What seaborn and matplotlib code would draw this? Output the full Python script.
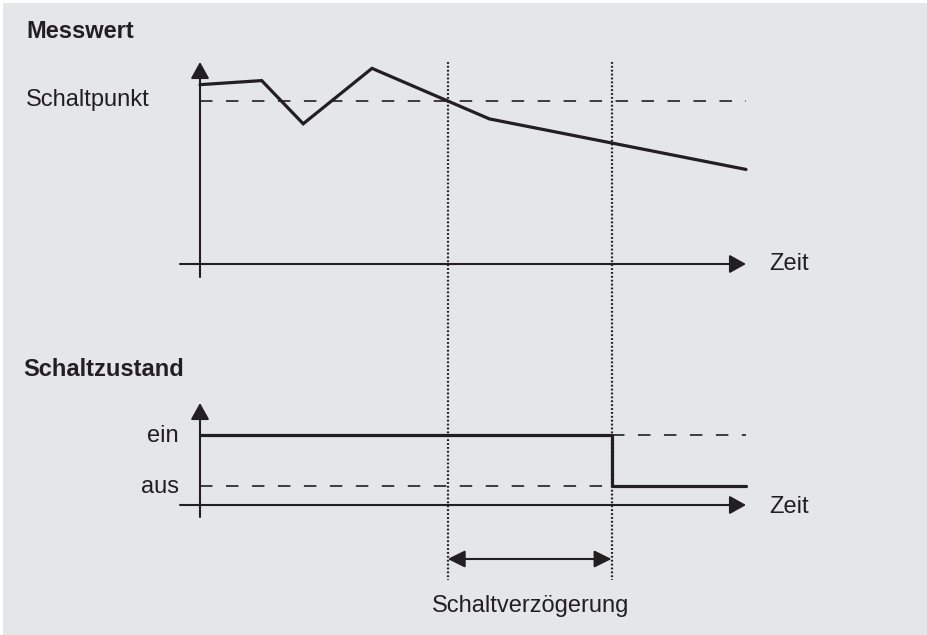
import numpy as np
import pandas as pd
import matplotlib
matplotlib.use("Agg")
import matplotlib.pyplot as plt
import matplotlib.transforms as mtransforms
from matplotlib.patches import Rectangle
import seaborn as sns

# ---------------- data ----------------
zeit_mess = [0.0, 1.13, 1.89, 3.15, 5.3, 10.0]        # time points of measurement
messwert = [110.0, 112.5, 86.0, 120.0, 89.0, 58.0]     # measured value
schaltpunkt = 100.0                                    # switching point
verzoegerung = 3.0                                     # switching delay
zustand_ein = 2.0
zustand_aus = 1.0
t_end = 10.0

labels_top = ["Messwert", "Schaltpunkt", "Zeit"]
labels_bottom = ["Schaltzustand", "ein", "aus", "Zeit"]
label_delay = "Schaltverzögerung"

# ---------------- derived ----------------
t_cross = None
for i in range(len(zeit_mess) - 1):
    y0, y1 = messwert[i], messwert[i + 1]
    if y0 >= schaltpunkt > y1:
        t_cross = zeit_mess[i] + (y0 - schaltpunkt) / (y0 - y1) * (zeit_mess[i + 1] - zeit_mess[i])
t_switch = t_cross + verzoegerung

zeit_state = [0.0, t_switch, t_end]
state = [zustand_ein, zustand_aus, zustand_aus]

df_mess = pd.DataFrame({"t": zeit_mess, "v": messwert})
df_state = pd.DataFrame({"t": zeit_state, "s": state})

# ---------------- style ----------------
sns.set_style("white")
plt.rcParams["font.family"] = ["Liberation Sans", "DejaVu Sans"]
plt.rcParams["lines.scale_dashes"] = False
INK = "#231f20"
BG = "#e5e6e8"

W, H = 927, 635
fig = plt.figure(figsize=(W / 100, H / 100), dpi=100, facecolor="white")
fig.patches.append(Rectangle((3 / W, 0), 1 - 3 / W, 1 - 3 / H, transform=fig.transFigure,
                             facecolor=BG, edgecolor="none", zorder=-10))

def px_ax(x0, x1, ytop, ybot):
    return fig.add_axes([x0 / W, 1 - ybot / H, (x1 - x0) / W, (ybot - ytop) / H])

ax1 = px_ax(200, 746, 62, 264)
ax2 = px_ax(200, 746, 403, 505)
for ax in (ax1, ax2):
    ax.set_facecolor("none")
    for s in ax.spines.values():
        s.set_visible(False)
    ax.set_xticks([])
    ax.set_yticks([])
    ax.set_xlim(0, t_end)

ax1.set_ylim(0, 123.9)
ax2.set_ylim(0.62, 2.62)

dash = (0, (9.0, 9.7))
AX_LW = 1.5
head = "-|>,head_length=1.0,head_width=0.56"

def axis_arrow(ax, xy, xytext):
    ax.annotate("", xy=xy, xytext=xytext, xycoords="data", textcoords="data",
                annotation_clip=False,
                arrowprops=dict(arrowstyle=head, color=INK, lw=AX_LW,
                                shrinkA=0, shrinkB=0, mutation_scale=10))

# ---- top panel ----
ylo1, yhi1 = ax1.get_ylim()
x_ext = -0.366
axis_arrow(ax1, (t_end, 0), (x_ext, 0))
axis_arrow(ax1, (0, yhi1), (0, -8))
ax1.plot([0, t_end], [schaltpunkt, schaltpunkt], color=INK, lw=1.2, linestyle=dash, clip_on=False)
sns.lineplot(data=df_mess, x="t", y="v", ax=ax1, color=INK, lw=2.3, sort=False,
             estimator=None, clip_on=False, solid_joinstyle="miter")
ax1.set_xlabel(""); ax1.set_ylabel("")

# ---- bottom panel ----
axis_arrow(ax2, (t_end, 0.62), (x_ext, 0.62))
axis_arrow(ax2, (0, 2.62), (0, 0.385))
ax2.plot([0, t_switch], [zustand_aus, zustand_aus], color=INK, lw=1.2, linestyle=dash, clip_on=False)
ax2.plot([t_switch, t_end], [zustand_ein, zustand_ein], color=INK, lw=1.2, linestyle=dash, clip_on=False)
sns.lineplot(data=df_state, x="t", y="s", ax=ax2, color=INK, lw=2.3, sort=False,
             estimator=None, drawstyle="steps-post", clip_on=False)
ax2.set_xlabel(""); ax2.set_ylabel("")

# ---- dotted markers and delay arrow ----
bt = mtransforms.blended_transform_factory(ax1.transData, fig.transFigure)
for tx in (t_cross, t_switch):
    ax1.plot([tx, tx], [1 - 62 / H, 1 - 580 / H], transform=bt, color=INK, lw=1.6,
             linestyle=(0, (1.3, 1.5)), clip_on=False)
ax1.annotate("", xy=(t_switch, 1 - 559 / H), xytext=(t_cross, 1 - 559 / H),
             xycoords=bt, textcoords=bt, annotation_clip=False,
             arrowprops=dict(arrowstyle="<|-|>,head_length=1.05,head_width=0.52",
                             color=INK, lw=1.5, shrinkA=0, shrinkB=0, mutation_scale=10))

# ---- texts ----
FS = 17
def ftext(x, y, s, **kw):
    fig.text(x / W, 1 - y / H, s, color=INK, fontsize=FS, va="baseline", **kw)

ftext(26, 38, labels_top[0], fontweight="bold")
ftext(26, 106, labels_top[1])
ftext(769, 270, labels_top[2])
ftext(23, 376, labels_bottom[0], fontweight="bold")
ftext(179, 442, labels_bottom[1], ha="right")
ftext(179, 493, labels_bottom[2], ha="right")
ftext(769, 513, labels_bottom[3])
ftext(531, 612, label_delay, ha="center")

fig.savefig("out.png", dpi=100, facecolor="white")
